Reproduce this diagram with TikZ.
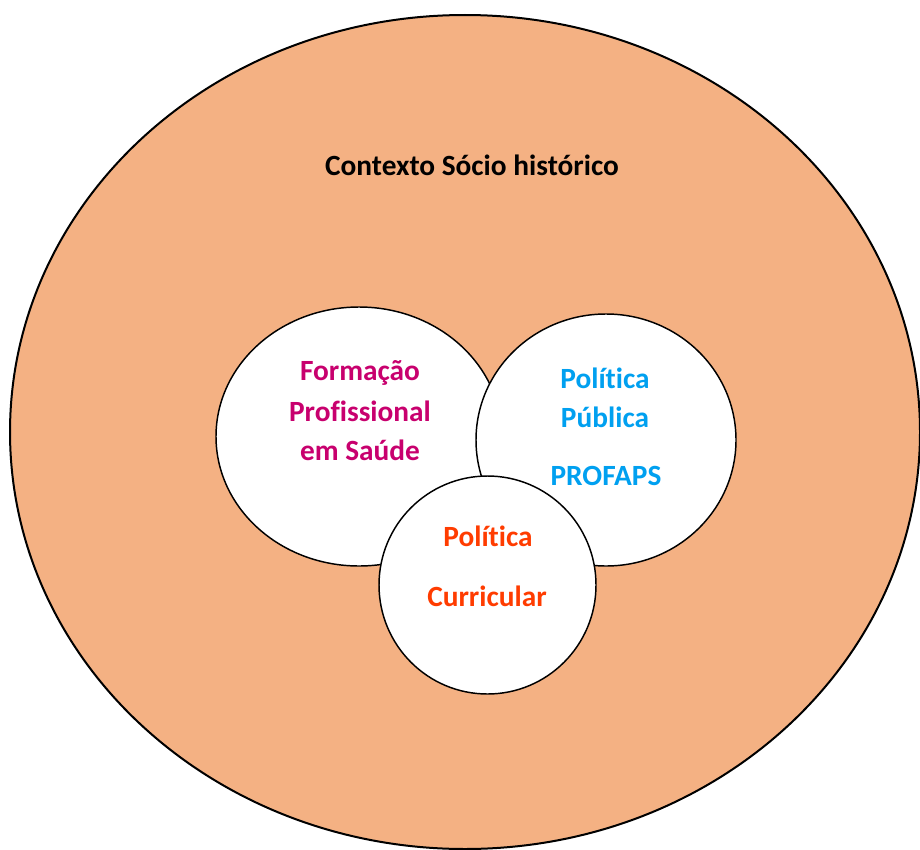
\documentclass[tikz,border=0pt]{standalone}
\usepackage{fontspec}
\setmainfont[Ligatures=NoCommon]{Carlito}
\definecolor{ctxfill}{HTML}{F4B183}
\definecolor{formcol}{HTML}{C8006E}
\definecolor{polcol}{HTML}{00A0F0}
\definecolor{curcol}{HTML}{FF3C00}
\tikzset{
  ring/.style={draw=black, line width=1.1pt, fill=white},
  label/.style={font=\bfseries\fontsize{22}{22}\selectfont, inner sep=0pt, anchor=center}
}
\begin{document}
\begin{tikzpicture}[x=0.75pt, y=-0.75pt]
  \useasboundingbox (0,0) rectangle (920,849);
  % socio-historical context
  \begin{scope}
    \clip (0,0) rectangle (920,849);
    \draw[line width=1.5pt, fill=ctxfill] (465,432) ellipse [x radius=455, y radius=417];
  \end{scope}
  \node[label, text=black] (ctx) at (472,165) {Contexto Sócio histórico};
  % three overlapping circles
  \draw[ring] (359,436.5) ellipse [x radius=143, y radius=129.5];
  \draw[ring] (606,440) ellipse [x radius=130, y radius=126];
  \draw[ring] (487.5,585) ellipse [x radius=108.5, y radius=109];
  % texts
  \node[label, text=formcol] (f1) at (360,373) {Formação};
  \node[label, text=formcol] (f2) at (360,411.5) {Profissional};
  \node[label, text=formcol] (f3) at (360,450) {em Saúde};
  \node[label, text=polcol] (p1) at (605,378) {Política};
  \node[label, text=polcol] (p2) at (605,417) {Pública};
  \node[label, text=polcol] (p3) at (606,476) {PROFAPS};
  \node[label, text=curcol] (c1) at (488,536) {Política};
  \node[label, text=curcol] (c2) at (487,596) {Curricular};
\end{tikzpicture}
\end{document}
